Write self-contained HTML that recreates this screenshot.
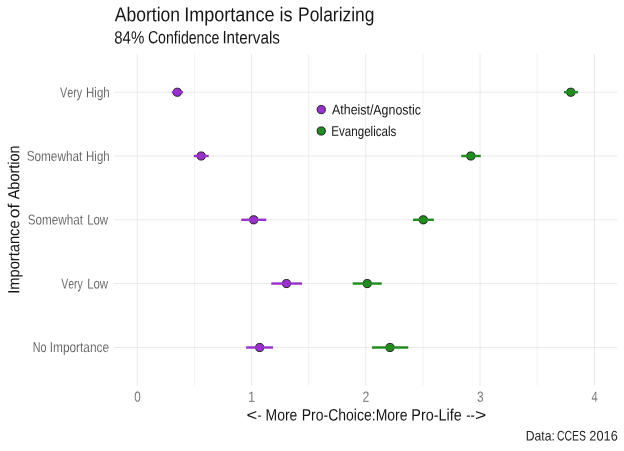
<!DOCTYPE html>
<html><head><meta charset="utf-8"><title>Abortion Importance is Polarizing</title>
<style>
html,body{margin:0;padding:0;background:#fff;}
body{width:624px;height:451px;overflow:hidden;font-family:"Liberation Sans",sans-serif;}
svg{display:block;}
text{font-family:"Liberation Sans",sans-serif;font-kerning:none;}
</style></head><body>
<svg width="624" height="451" viewBox="0 0 624 451">
<rect width="624" height="451" fill="#ffffff"/>

<g stroke="#ebebeb" stroke-width="0.7" fill="none">
<line x1="194.43" x2="194.43" y1="54.00" y2="385.70"/>
<line x1="308.68" x2="308.68" y1="54.00" y2="385.70"/>
<line x1="422.93" x2="422.93" y1="54.00" y2="385.70"/>
<line x1="537.17" x2="537.17" y1="54.00" y2="385.70"/>
</g>
<g stroke="#e6e6e6" stroke-width="0.9" fill="none">
<line x1="137.30" x2="137.30" y1="54.00" y2="385.70"/>
<line x1="251.55" x2="251.55" y1="54.00" y2="385.70"/>
<line x1="365.80" x2="365.80" y1="54.00" y2="385.70"/>
<line x1="480.05" x2="480.05" y1="54.00" y2="385.70"/>
<line x1="594.30" x2="594.30" y1="54.00" y2="385.70"/>
<line x1="114.25" x2="617.25" y1="92.25" y2="92.25"/>
<line x1="114.25" x2="617.25" y1="156.00" y2="156.00"/>
<line x1="114.25" x2="617.25" y1="219.80" y2="219.80"/>
<line x1="114.25" x2="617.25" y1="283.55" y2="283.55"/>
<line x1="114.25" x2="617.25" y1="347.50" y2="347.50"/>
</g>
<g stroke="#0a0a0a" stroke-width="0.85">
<circle cx="177.30" cy="92.25" r="4.1" fill="#9932cc"/>
<circle cx="201.20" cy="156.00" r="4.1" fill="#9932cc"/>
<circle cx="253.70" cy="219.80" r="4.1" fill="#9932cc"/>
<circle cx="286.50" cy="283.55" r="4.1" fill="#9932cc"/>
<circle cx="259.70" cy="347.50" r="4.1" fill="#9932cc"/>
<circle cx="570.80" cy="92.25" r="4.1" fill="#228b22"/>
<circle cx="470.80" cy="156.00" r="4.1" fill="#228b22"/>
<circle cx="423.30" cy="219.80" r="4.1" fill="#228b22"/>
<circle cx="367.20" cy="283.55" r="4.1" fill="#228b22"/>
<circle cx="390.00" cy="347.50" r="4.1" fill="#228b22"/>
<circle cx="321.25" cy="109.6" r="4.1" fill="#9932cc"/>
<circle cx="321.25" cy="131.0" r="4.1" fill="#228b22"/>
</g>
<g stroke-width="2.45" fill="none">
<line x1="171.80" x2="183.00" y1="92.25" y2="92.25" stroke="#9932cc"/>
<line x1="193.80" x2="208.70" y1="156.00" y2="156.00" stroke="#9932cc"/>
<line x1="241.30" x2="266.30" y1="219.80" y2="219.80" stroke="#9932cc"/>
<line x1="271.30" x2="302.00" y1="283.55" y2="283.55" stroke="#9932cc"/>
<line x1="246.20" x2="273.00" y1="347.50" y2="347.50" stroke="#9932cc"/>
<line x1="564.00" x2="578.00" y1="92.25" y2="92.25" stroke="#228b22"/>
<line x1="461.20" x2="480.70" y1="156.00" y2="156.00" stroke="#228b22"/>
<line x1="413.00" x2="433.80" y1="219.80" y2="219.80" stroke="#228b22"/>
<line x1="352.70" x2="381.70" y1="283.55" y2="283.55" stroke="#228b22"/>
<line x1="372.00" x2="408.30" y1="347.50" y2="347.50" stroke="#228b22"/>
</g>
<g style="filter:grayscale(1)">
<text transform="rotate(0.038 147.5 21.2)" x="114.87" y="21.20" font-size="20.10" textLength="65.17" lengthAdjust="spacingAndGlyphs" fill="#151515">Abortion</text>
<text transform="rotate(0.037 229.3 21.2)" x="184.13" y="21.20" font-size="20.10" textLength="90.37" lengthAdjust="spacingAndGlyphs" fill="#151515">Importance</text>
<text transform="rotate(0.037 286.1 21.2)" x="279.59" y="21.20" font-size="20.10" textLength="13.06" lengthAdjust="spacingAndGlyphs" fill="#151515">is</text>
<text transform="rotate(0.038 336.2 21.2)" x="298.07" y="21.20" font-size="20.10" textLength="76.35" lengthAdjust="spacingAndGlyphs" fill="#151515">Polarizing</text>
<text transform="rotate(0.039 129.2 43.4)" x="114.25" y="43.40" font-size="17.70" textLength="29.99" lengthAdjust="spacingAndGlyphs" fill="#151515">84%</text>
<text transform="rotate(0.041 183.7 43.4)" x="147.88" y="43.40" font-size="17.70" textLength="71.55" lengthAdjust="spacingAndGlyphs" fill="#151515">Confidence</text>
<text transform="rotate(0.038 251.2 43.4)" x="222.39" y="43.40" font-size="17.70" textLength="57.56" lengthAdjust="spacingAndGlyphs" fill="#151515">Intervals</text>
<text transform="rotate(0.043 71.1 97.2)" x="60.05" y="97.20" font-size="14.20" textLength="22.17" lengthAdjust="spacingAndGlyphs" fill="#555555" stroke="#ffffff" stroke-width="0.12">Very</text>
<text transform="rotate(0.041 97.9 97.2)" x="86.06" y="97.20" font-size="14.20" textLength="23.59" lengthAdjust="spacingAndGlyphs" fill="#555555" stroke="#ffffff" stroke-width="0.12">High</text>
<text transform="rotate(0.040 54.5 160.9)" x="26.67" y="160.90" font-size="14.20" textLength="55.62" lengthAdjust="spacingAndGlyphs" fill="#555555" stroke="#ffffff" stroke-width="0.12">Somewhat</text>
<text transform="rotate(0.041 97.9 160.9)" x="86.06" y="160.90" font-size="14.20" textLength="23.59" lengthAdjust="spacingAndGlyphs" fill="#555555" stroke="#ffffff" stroke-width="0.12">High</text>
<text transform="rotate(0.040 55.3 224.5)" x="27.77" y="224.50" font-size="14.20" textLength="55.12" lengthAdjust="spacingAndGlyphs" fill="#555555" stroke="#ffffff" stroke-width="0.12">Somewhat</text>
<text transform="rotate(0.041 97.6 224.5)" x="87.17" y="224.50" font-size="14.20" textLength="20.91" lengthAdjust="spacingAndGlyphs" fill="#555555" stroke="#ffffff" stroke-width="0.12">Low</text>
<text transform="rotate(0.045 72.0 288.4)" x="61.25" y="288.45" font-size="14.20" textLength="21.57" lengthAdjust="spacingAndGlyphs" fill="#555555" stroke="#ffffff" stroke-width="0.12">Very</text>
<text transform="rotate(0.041 97.6 288.4)" x="87.17" y="288.45" font-size="14.20" textLength="20.91" lengthAdjust="spacingAndGlyphs" fill="#555555" stroke="#ffffff" stroke-width="0.12">Low</text>
<text transform="rotate(0.044 39.6 352.1)" x="32.72" y="352.10" font-size="14.20" textLength="13.73" lengthAdjust="spacingAndGlyphs" fill="#555555" stroke="#ffffff" stroke-width="0.12">No</text>
<text transform="rotate(0.039 79.4 352.1)" x="49.70" y="352.10" font-size="14.20" textLength="59.42" lengthAdjust="spacingAndGlyphs" fill="#555555" stroke="#ffffff" stroke-width="0.12">Importance</text>
<text transform="rotate(0.041 137.5 401.8)" x="134.24" y="401.80" font-size="14.70" textLength="6.52" lengthAdjust="spacingAndGlyphs" fill="#666666" stroke="#ffffff" stroke-width="0.12">0</text>
<text transform="rotate(0.037 251.6 401.8)" x="247.96" y="401.80" font-size="14.70" textLength="7.22" lengthAdjust="spacingAndGlyphs" fill="#666666" stroke="#ffffff" stroke-width="0.12">1</text>
<text transform="rotate(0.039 366.0 401.8)" x="362.58" y="401.80" font-size="14.70" textLength="6.84" lengthAdjust="spacingAndGlyphs" fill="#666666" stroke="#ffffff" stroke-width="0.12">2</text>
<text transform="rotate(0.041 480.3 401.8)" x="477.00" y="401.80" font-size="14.70" textLength="6.57" lengthAdjust="spacingAndGlyphs" fill="#666666" stroke="#ffffff" stroke-width="0.12">3</text>
<text transform="rotate(0.044 594.5 401.8)" x="591.44" y="401.80" font-size="14.70" textLength="6.18" lengthAdjust="spacingAndGlyphs" fill="#666666" stroke="#ffffff" stroke-width="0.12">4</text>
<text transform="rotate(0.030 251.7 420.5)" x="246.40" y="420.50" font-size="16.50" textLength="10.70" lengthAdjust="spacingAndGlyphs" fill="#151515">&lt;</text>
<text transform="rotate(0.051 259.5 420.5)" x="257.73" y="420.50" font-size="16.50" textLength="3.55" lengthAdjust="spacingAndGlyphs" fill="#151515">-</text>
<text transform="rotate(0.039 281.4 420.5)" x="265.56" y="420.50" font-size="16.50" textLength="31.76" lengthAdjust="spacingAndGlyphs" fill="#151515">More</text>
<text transform="rotate(0.039 354.6 420.5)" x="301.75" y="420.50" font-size="16.50" textLength="105.77" lengthAdjust="spacingAndGlyphs" fill="#151515">Pro-Choice:More</text>
<text transform="rotate(0.038 436.5 420.5)" x="411.32" y="420.50" font-size="16.50" textLength="50.32" lengthAdjust="spacingAndGlyphs" fill="#151515">Pro-Life</text>
<text transform="rotate(0.043 470.5 420.5)" x="466.34" y="420.50" font-size="16.50" textLength="8.42" lengthAdjust="spacingAndGlyphs" fill="#151515">--</text>
<text transform="rotate(0.028 480.7 420.5)" x="475.05" y="420.50" font-size="16.50" textLength="11.30" lengthAdjust="spacingAndGlyphs" fill="#151515">&gt;</text>
<g transform="translate(19.2,0) rotate(-90)"><text transform="rotate(0.036 -257.1 0.0)" x="-293.86" y="0.00" font-size="16.00" textLength="73.51" lengthAdjust="spacingAndGlyphs" fill="#151515">Importance</text>
<text transform="rotate(0.030 -211.0 0.0)" x="-218.34" y="0.00" font-size="16.00" textLength="14.61" lengthAdjust="spacingAndGlyphs" fill="#151515">of</text>
<text transform="rotate(0.036 -172.3 0.0)" x="-199.33" y="0.00" font-size="16.00" textLength="53.97" lengthAdjust="spacingAndGlyphs" fill="#151515">Abortion</text></g>
<text transform="rotate(0.037 376.5 114.4)" x="332.08" y="114.40" font-size="14.00" textLength="88.75" lengthAdjust="spacingAndGlyphs" fill="#151515">Atheist/Agnostic</text>
<text transform="rotate(0.040 363.8 135.9)" x="331.25" y="135.90" font-size="14.00" textLength="65.17" lengthAdjust="spacingAndGlyphs" fill="#151515">Evangelicals</text>
<text transform="rotate(0.038 540.3 440.6)" x="525.70" y="440.60" font-size="13.90" textLength="29.22" lengthAdjust="spacingAndGlyphs" fill="#242424">Data:</text>
<text transform="rotate(0.044 571.5 440.6)" x="556.97" y="440.60" font-size="13.90" textLength="29.01" lengthAdjust="spacingAndGlyphs" fill="#242424">CCES</text>
<text transform="rotate(0.036 603.6 440.6)" x="589.36" y="440.60" font-size="13.90" textLength="28.40" lengthAdjust="spacingAndGlyphs" fill="#242424">2016</text>
</g>
</svg></body></html>
